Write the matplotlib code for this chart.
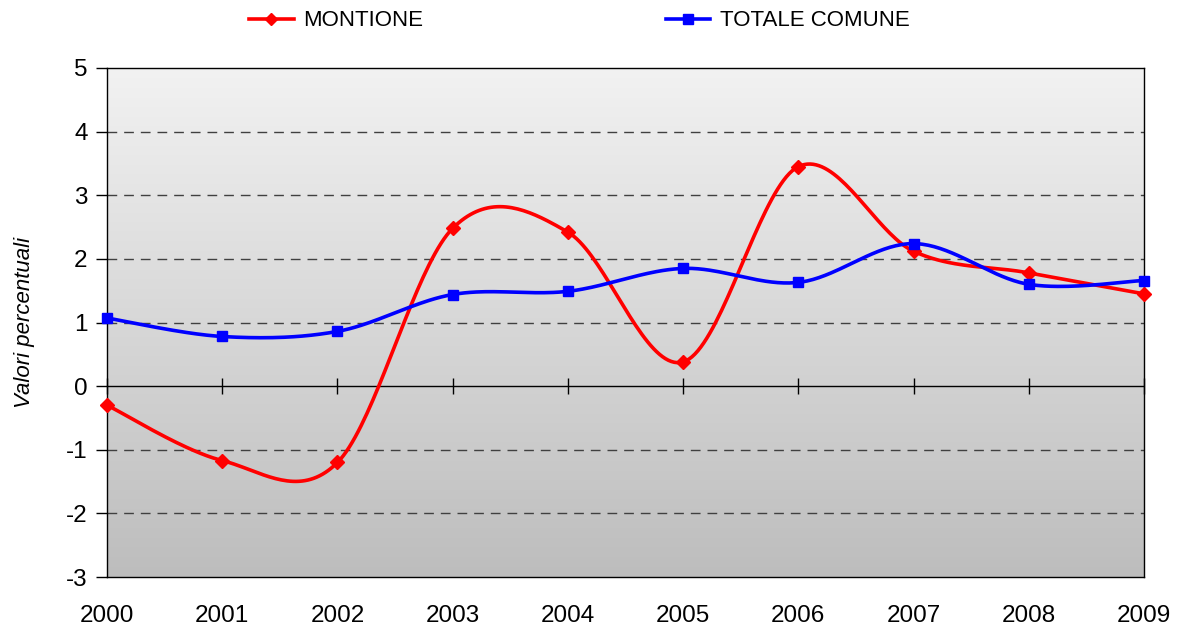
import numpy as np
import matplotlib
matplotlib.use("Agg")
import matplotlib.pyplot as plt
from matplotlib.colors import LinearSegmentedColormap
from matplotlib.lines import Line2D

plt.rcParams['font.family'] = ['Liberation Sans', 'DejaVu Sans']

years = [2000, 2001, 2002, 2003, 2004, 2005, 2006, 2007, 2008, 2009]
montione = [-0.30, -1.17, -1.20, 2.48, 2.42, 0.38, 3.45, 2.12, 1.78, 1.45]
totale = [1.07, 0.78, 0.86, 1.44, 1.49, 1.85, 1.63, 2.24, 1.60, 1.66]
yticks = [-3, -2, -1, 0, 1, 2, 3, 4, 5]


def smooth(xs, ys, n=40):
    xs = np.asarray(xs, float); ys = np.asarray(ys, float)
    P = np.column_stack([xs, ys])
    Pe = np.vstack([P[0], P, P[-1]])
    out = []
    t = np.linspace(0, 1, n)[:, None]
    for i in range(len(P) - 1):
        p0 = Pe[i + 1]; p3 = Pe[i + 2]
        c1 = p0 + (Pe[i + 2] - Pe[i]) / 6.0
        c2 = p3 - (Pe[i + 3] - Pe[i + 1]) / 6.0
        seg = ((1 - t) ** 3) * p0 + 3 * ((1 - t) ** 2) * t * c1 + 3 * (1 - t) * t ** 2 * c2 + t ** 3 * p3
        out.append(seg if i == 0 else seg[1:])
    seg = np.vstack(out)
    return seg[:, 0], seg[:, 1]


fig = plt.figure(figsize=(11.77, 6.31), dpi=100)
ax = fig.add_axes([107 / 1177, 1 - 577 / 631, (1144 - 107) / 1177, (577 - 68) / 631])
ax.set_xlim(years[0], years[-1])
ax.set_ylim(-3, 5)

grad = np.linspace(0, 1, 256)[:, None]
cmap = LinearSegmentedColormap.from_list('g', ['#bdbdbd', '#f2f2f2'])
ax.imshow(grad, aspect='auto', cmap=cmap, origin='lower',
          extent=[years[0], years[-1], -3, 5], zorder=0)

for yv in yticks:
    if yv in (-3, 5):
        continue
    if yv == 0:
        ax.axhline(0, color='black', lw=1.0, zorder=1)
    else:
        ax.axhline(yv, color='#404040', lw=1.0, ls=(0, (7, 5)), zorder=1)

xm, ym = smooth(years, montione)
xt, yt = smooth(years, totale)
ax.plot(xm, ym, color='#ff0000', lw=2.6, zorder=3)
ax.plot(xt, yt, color='#0000ff', lw=2.6, zorder=3)
ax.plot(years, montione, ls='none', marker='D', ms=7, color='#ff0000', zorder=4, clip_on=False)
ax.plot(years, totale, ls='none', marker='s', ms=7.5, color='#0000ff', zorder=4, clip_on=False)

h1 = Line2D([], [], color='#ff0000', lw=2.6, marker='D', ms=6)
h2 = Line2D([], [], color='#0000ff', lw=2.6, marker='s', ms=6.5)
fig.legend([h1, h2], ['MONTIONE', 'TOTALE COMUNE'], loc='center', bbox_to_anchor=(0.4924, 1 - 21 / 631),
           ncol=2, frameon=False, fontsize=16, handlelength=2.0, handletextpad=0.45,
           columnspacing=10.9)

ax.set_yticks(yticks)
ax.set_yticklabels([str(v) for v in yticks], fontsize=17.5)
ax.tick_params(axis='y', direction='out', length=8, width=1, pad=6)
ax.set_xticks(years)
ax.set_xticklabels([str(y) for y in years], fontsize=17.5)
ax.tick_params(axis='x', length=0, pad=20)

sec = ax.secondary_xaxis(0, transform=ax.transData)
sec.set_xticks(years)
sec.tick_params(axis='x', direction='inout', length=12, width=1, labelbottom=False, labeltop=False)
sec.spines['bottom'].set_visible(False)
sec.spines['top'].set_visible(False)

for s in ax.spines.values():
    s.set_color('black')
    s.set_linewidth(1.0)

ax.set_ylabel('Valori percentuali', fontsize=16, style='italic', labelpad=22)

fig.savefig('out.png', dpi=100)
